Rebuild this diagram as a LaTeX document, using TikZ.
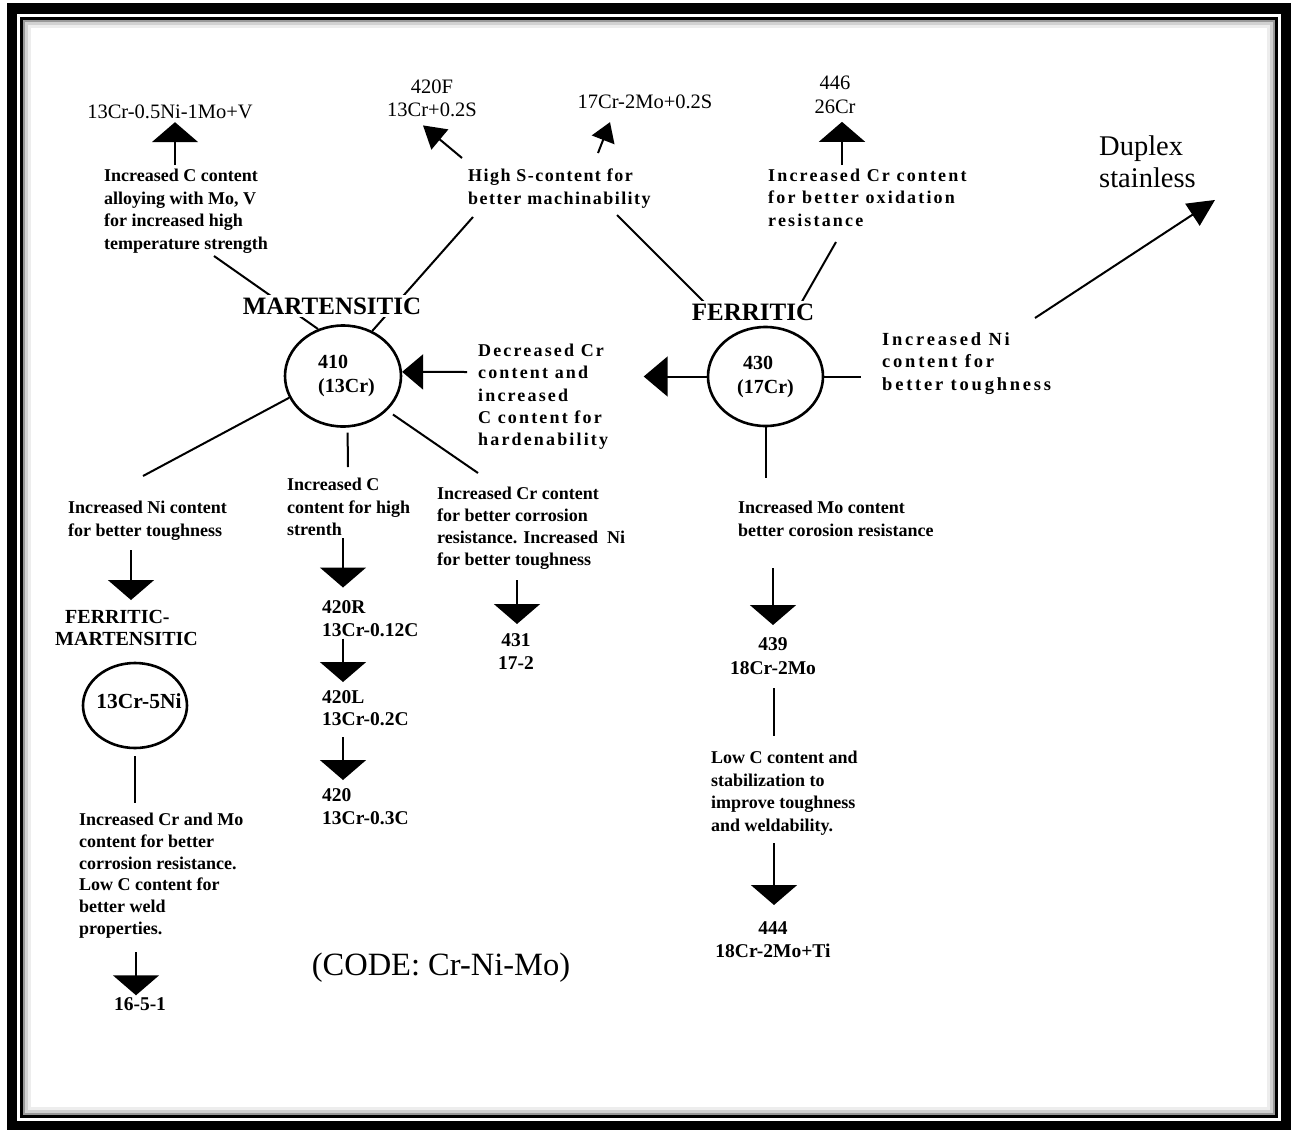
\documentclass[tikz,border=0pt]{standalone}
\usepackage{fontspec}
\setmainfont{Liberation Serif}
\newfontfamily\wideLS[LetterSpace=12]{Liberation Serif}
\newfontfamily\wideLSa[LetterSpace=8]{Liberation Serif}
\newfontfamily\wideLSb[LetterSpace=15]{Liberation Serif}
\usetikzlibrary{arrows.meta,shapes.geometric,calc,backgrounds}
\newcommand\fBody{\fontsize{18}{22.5}\selectfont\bfseries}
\newcommand\fWide{\wideLS\fontsize{18}{22.3}\selectfont\bfseries}
\newcommand\fCode{\fontsize{20.5}{23.5}\selectfont}
\newcommand\fCodeB{\fontsize{19.5}{22.5}\selectfont\bfseries}
\newcommand\fTitle{\fontsize{25}{28}\selectfont\bfseries}
\newcommand\fBig{\fontsize{28.5}{31.5}\selectfont}
\newcommand\fCirc{\fontsize{20}{24}\selectfont\bfseries}
\begin{document}
\begin{tikzpicture}[x=1pt,y=-1pt,
  lbl/.style={font=\fBody, align=left, inner sep=0pt, anchor=north west},
  wlbl/.style={lbl, font=\fWide},
  codetxt/.style={font=\fCode, align=center, inner sep=0pt},
  codeb/.style={font=\fCodeB, align=left, inner sep=0pt, anchor=north west},
  codebc/.style={font=\fCodeB, align=center, inner sep=0pt},
  ttl/.style={font=\fTitle, fill=white, inner sep=3pt},
  ring/.style={draw, ellipse, line width=2.6pt, font=\fCirc, align=left, inner sep=0pt},
  conn/.style={line width=2pt},
  bigar/.style={conn, -{Triangle[width=46pt,length=20pt]}},
  midarA/.style={conn, -{Triangle[width=26pt,length=22pt]}},
  midarB/.style={conn, -{Triangle[width=24pt,length=19pt]}},
  duar/.style={conn, -{Triangle[width=26pt,length=27pt]}},
  lar/.style={conn, -{Triangle[width=40pt,length=24pt]}},
  larb/.style={conn, -{Triangle[width=35pt,length=21pt]}}]
\useasboundingbox (0,0) rectangle (1291,1130);
% frame
\draw[line width=10.5pt] (12,8.5) rectangle (1286.5,1126);
\draw[line width=3pt] (21,18.5) rectangle (1276.5,1116.5);
\draw[black!40, line width=2pt] (23.5,21) rectangle (1274,1114);
\draw[black!18, line width=3pt] (26,23.5) rectangle (1271.5,1111.5);
\draw[black!7, line width=3pt] (29,26.5) rectangle (1268.5,1108.5);

% nodes
\node[lbl] (t1) at (104,169) {Increased C content\\alloying with Mo, V\\for increased high\\temperature strength};
\node[codetxt] (n1) at (170,112) {13Cr-0.5Ni-1Mo+V};
\node[codetxt] (n420F) at (432,98.5) {420F\\13Cr+0.2S};
\node[codetxt] (n17) at (645,102) {17Cr-2Mo+0.2S};
\node[codetxt] (n446) at (835,95) {446\\26Cr};
\node[lbl, font=\wideLSa\fontsize{18}{22.3}\selectfont\bfseries] (tS) at (468,169) {High S-content for\\better machinability};
\node[wlbl] (tOx) at (768,169) {Increased Cr content\\for better oxidation\\resistance};
\node[anchor=north west, inner sep=0pt, align=left, font=\fBig] (tDup) at (1099,136) {Duplex\\stainless};
\node[ring, minimum width=116pt, minimum height=101pt] (c410) at (343,376) {\hspace*{7pt}410\\\hspace*{7pt}(13Cr)};
\node[ring, minimum width=115pt, minimum height=99pt] (c430) at (765.5,376.5) {\hspace*{6pt}430\\(17Cr)};
\node[ttl] (tM) at (332,306) {MARTENSITIC};
\node[ttl] (tF) at (753,312) {FERRITIC};
\node[wlbl] (tDec) at (478,344) {Decreased Cr\\content and\\increased\\C content for\\hardenability};
\node[lbl, font=\wideLSb\fontsize{18.5}{22.5}\selectfont\bfseries] (tNi) at (882,332) {Increased Ni\\content for\\better toughness};
\node[lbl] (tNiL) at (68,501) {Increased Ni content\\for better toughness};
\node[lbl, font=\fontsize{20}{22}\selectfont\bfseries] (tFM) at (55,610) {\hspace*{10pt}FERRITIC-\\MARTENSITIC};
\node[draw, ellipse, line width=2.6pt, minimum width=104pt, minimum height=85pt, inner sep=0pt,
  label={[font=\fontsize{21.5}{24}\selectfont\bfseries, inner sep=0pt, xshift=4pt, yshift=4pt]center:13Cr-5Ni}] (e13) at (135,705.5) {};
\node[lbl, font=\fontsize{18}{21.7}\selectfont\bfseries] (tCrMo) at (79,813) {Increased Cr and Mo\\content for better\\corrosion resistance.\\Low C content for\\better weld\\properties.};
\node[codetxt, font=\fCodeB] (n1651) at (140,1004) {16-5-1};
\node[lbl] (tCh) at (287,478) {Increased C\\content for high\\strenth};
\node[lbl, font=\fontsize{18}{22}\selectfont\bfseries] (tCrNi) at (437,487) {Increased Cr content\\for better corrosion\\resistance. Increased\ \ Ni\\for better toughness};
\node[codeb] (n420R) at (322,600.5) {420R\\13Cr-0.12C};
\node[codeb] (n420L) at (322,690) {420L\\13Cr-0.2C};
\node[codeb] (n420) at (322,788.5) {420\\13Cr-0.3C};
\node[codebc] (n431) at (516,651.5) {431\\17-2};
\node[lbl] (tMo) at (738,501) {Increased Mo content\\better corosion resistance};
\node[codebc, font=\fontsize{19.5}{24}\selectfont\bfseries] (n439) at (773,656) {439\\18Cr-2Mo};
\node[lbl] (tLowC) at (711,751) {Low C content and\\stabilization to\\improve toughness\\and weldability.};
\node[codebc] (n444) at (773,939.5) {444\\18Cr-2Mo+Ti};
\node[font=\fontsize{32.5}{36}\selectfont, inner sep=0pt] (tCode) at (441,968) {(CODE: Cr-Ni-Mo)};

% connectors passing behind the titles
\begin{pgfonlayer}{background}
\draw[conn] ($(t1.north west)+(110,87)$) -- (c410.118);
\draw[conn] ($(tS.north west)+(5,48)$) -- (c410.57);
\draw[conn] ($(tS.north west)+(149,46)$) -- ($(tF.center)+(-45,-6)$);
\draw[conn] ($(tOx.north west)+(68,73)$) -- ($(tF.center)+(47,-7)$);
\end{pgfonlayer}

% arrows and lines
\draw[bigar] ($(t1.north west)+(71,-4)$) -- ($(n1.south)+(5,3)$);
\draw[midarA] ($(tS.north west)+(-6,-11)$) -- ($(n420F.south)+(-9,8)$);
\draw[midarB] ($(tS.north west)+(130,-16)$) -- ($(n17.south)+(-35,13)$);
\draw[bigar] ($(tOx.north west)+(74,-4)$) -- ($(n446.south)+(7,8)$);
\draw[duar] ($(tNi.north west)+(153,-14)$) -- ($(tDup.south west)+(116,12)$);
\draw[lar] (c430.west) -- ++(-63,0);
\draw[larb] ($(tDec.north west)+(-11,28)$) -- (c410.4);
\draw[conn] (c430.east) -- ++(37,0);
\draw[conn] (c410.202) -- ($(tNiL.north west)+(75,-25)$);
\draw[conn, shorten <=5pt] (c410.-85) -- ($(tCh.north west)+(61,-11)$);
\draw[conn, shorten <=7pt] (c410.-38) -- ($(tCrNi.north west)+(41,-14)$);
\draw[bigar] ($(tNiL.north west)+(63,49)$) -- ($(tFM.north west)+(76,-10)$);
\draw[conn, shorten <=7pt] (e13.south) -- ($(tCrMo.north west)+(56,-10)$);
\draw[bigar] ($(tCrMo.north west)+(57,139)$) -- ($(n1651.north)+(-4,-2)$);
\draw[bigar] ($(tCh.north west)+(56,60)$) -- ($(n420R.north west)+(21,-13)$);
\draw[bigar] ($(n420R.north west)+(21,38)$) -- ($(n420L.north west)+(21,-8)$);
\draw[bigar] ($(n420L.north west)+(21,47)$) -- ($(n420.north west)+(21,-8.5)$);
\draw[bigar] ($(tCrNi.north west)+(80,93)$) -- ($(n431.center)+(1,-27.5)$);
\draw[conn] (c430.south) -- ($(tMo.north west)+(27.5,-23)$);
\draw[bigar] ($(tMo.north west)+(35,67)$) -- ($(n439.center)+(0,-31)$);
\draw[conn] ($(n439.center)+(1,32)$) -- ($(tLowC.north west)+(63,-15)$);
\draw[bigar] ($(tLowC.north west)+(63,92)$) -- ($(n444.center)+(1,-34.5)$);
\end{tikzpicture}
\end{document}
